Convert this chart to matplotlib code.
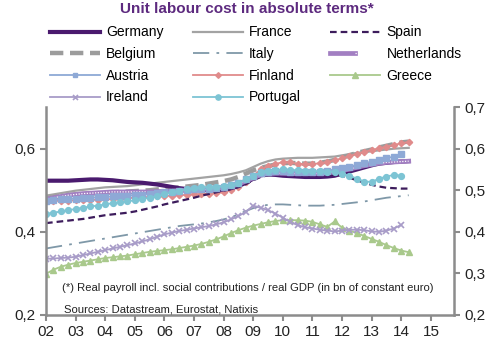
import numpy as np
import matplotlib
matplotlib.use("Agg")
import matplotlib.pyplot as plt
from matplotlib.legend_handler import HandlerTuple

plt.rcParams["font.family"] = ["Liberation Sans", "DejaVu Sans"]

# quarterly data, first point = 2002 Q1
start_year = 2002.0

germany = [0.523, 0.523, 0.523, 0.523, 0.524, 0.525, 0.526, 0.526,
           0.525, 0.524, 0.522, 0.520, 0.519, 0.518, 0.516, 0.514,
           0.511, 0.508, 0.505, 0.503, 0.502, 0.501, 0.500, 0.500,
           0.502, 0.505, 0.510, 0.518, 0.528, 0.536, 0.538, 0.537,
           0.535, 0.534, 0.533, 0.532, 0.532, 0.532, 0.533, 0.535,
           0.540, 0.545, 0.550, 0.555, 0.560, 0.564, 0.566, 0.568,
           0.569, 0.570]
france = [0.487, 0.490, 0.493, 0.496, 0.499, 0.501, 0.503, 0.505,
          0.507, 0.508, 0.509, 0.510, 0.512, 0.514, 0.516, 0.518,
          0.520, 0.522, 0.524, 0.526, 0.528, 0.530, 0.532, 0.534,
          0.536, 0.539, 0.543, 0.548, 0.556, 0.564, 0.570, 0.574,
          0.576, 0.577, 0.578, 0.578, 0.578, 0.579, 0.580, 0.581,
          0.584, 0.587, 0.590, 0.592, 0.594, 0.596, 0.598, 0.600,
          0.601, 0.602]
spain = [0.421, 0.423, 0.425, 0.427, 0.429, 0.431, 0.434, 0.437,
         0.440, 0.442, 0.444, 0.446, 0.449, 0.453, 0.457, 0.461,
         0.466, 0.470, 0.474, 0.478, 0.482, 0.487, 0.491, 0.495,
         0.499, 0.503, 0.508, 0.515, 0.524, 0.532, 0.536, 0.538,
         0.539, 0.538, 0.537, 0.536, 0.536, 0.536, 0.537, 0.537,
         0.535, 0.530, 0.524, 0.518, 0.513, 0.509, 0.506, 0.505,
         0.504, 0.504]
belgium = [0.480, 0.483, 0.486, 0.488, 0.490, 0.491, 0.492, 0.493,
           0.494, 0.495, 0.496, 0.497, 0.498, 0.499, 0.500, 0.502,
           0.503, 0.505, 0.507, 0.509, 0.511, 0.513, 0.516, 0.519,
           0.522, 0.526, 0.532, 0.540, 0.548, 0.554, 0.558, 0.562,
           0.565, 0.566, 0.565, 0.564, 0.564, 0.566, 0.569, 0.573,
           0.578, 0.584, 0.590, 0.594, 0.598, 0.603, 0.607, 0.611,
           0.615, 0.617]
italy = [0.360, 0.363, 0.366, 0.369, 0.372, 0.375, 0.378, 0.381,
         0.384, 0.387, 0.390, 0.393, 0.396, 0.399, 0.402, 0.405,
         0.408, 0.411, 0.414, 0.416, 0.418, 0.420, 0.423, 0.426,
         0.430, 0.435, 0.442, 0.450, 0.457, 0.462, 0.465, 0.466,
         0.466, 0.465, 0.464, 0.463, 0.463, 0.463, 0.464, 0.465,
         0.467, 0.469, 0.471, 0.473, 0.476, 0.479, 0.482, 0.484,
         0.486, 0.488]
netherlands = [0.478, 0.482, 0.485, 0.488, 0.490, 0.492, 0.493, 0.494,
               0.495, 0.496, 0.496, 0.496, 0.496, 0.496, 0.496, 0.497,
               0.497, 0.498, 0.499, 0.500, 0.501, 0.502, 0.503, 0.505,
               0.507, 0.510, 0.515, 0.522, 0.530, 0.537, 0.540, 0.541,
               0.541, 0.540, 0.540, 0.540, 0.540, 0.541, 0.542, 0.544,
               0.547, 0.551, 0.555, 0.559, 0.562, 0.565, 0.567, 0.568,
               0.569, 0.570]
austria = [0.475, 0.477, 0.478, 0.479, 0.480, 0.481, 0.482, 0.483,
           0.484, 0.485, 0.486, 0.487, 0.488, 0.489, 0.491, 0.493,
           0.495, 0.497, 0.499, 0.501, 0.502, 0.503, 0.504, 0.506,
           0.508, 0.512, 0.518, 0.526, 0.535, 0.542, 0.545, 0.546,
           0.546, 0.545, 0.545, 0.544, 0.544, 0.545, 0.547, 0.550,
           0.553, 0.557, 0.561, 0.565, 0.569, 0.573, 0.577, 0.581,
           0.587]
finland = [0.473, 0.474, 0.475, 0.475, 0.476, 0.476, 0.477, 0.477,
           0.478, 0.479, 0.480, 0.481, 0.482, 0.483, 0.484, 0.485,
           0.486, 0.487, 0.488, 0.489, 0.490, 0.491, 0.492, 0.493,
           0.495, 0.500, 0.508, 0.520, 0.535, 0.550, 0.558, 0.563,
           0.568, 0.567, 0.564, 0.563, 0.563, 0.565, 0.568, 0.572,
           0.577, 0.582, 0.588, 0.592, 0.597, 0.601, 0.605, 0.609,
           0.613, 0.616]
greece = [0.299, 0.309, 0.316, 0.321, 0.325, 0.328, 0.331, 0.334,
          0.337, 0.339, 0.341, 0.343, 0.346, 0.349, 0.352, 0.354,
          0.356, 0.358, 0.361, 0.364, 0.367, 0.371, 0.376, 0.382,
          0.389, 0.397, 0.404, 0.410, 0.415, 0.419, 0.423, 0.426,
          0.428, 0.428, 0.428, 0.427, 0.424, 0.418, 0.412, 0.425,
          0.410, 0.403, 0.397, 0.390, 0.383, 0.376, 0.368, 0.361,
          0.355, 0.351]
ireland = [0.335, 0.336, 0.337, 0.338, 0.340, 0.344, 0.348, 0.352,
           0.356, 0.360, 0.364, 0.368, 0.372, 0.377, 0.382, 0.388,
           0.394, 0.398, 0.402, 0.405, 0.408, 0.411, 0.414, 0.418,
           0.423, 0.430, 0.438, 0.448, 0.463, 0.458, 0.452, 0.444,
           0.434, 0.424, 0.416, 0.411, 0.408, 0.405, 0.403, 0.401,
           0.403, 0.405, 0.405, 0.404, 0.401, 0.400, 0.403, 0.408,
           0.417]
portugal = [0.443, 0.446, 0.449, 0.452, 0.455, 0.458, 0.461, 0.463,
            0.466, 0.469, 0.471, 0.473, 0.476, 0.479, 0.482, 0.486,
            0.490, 0.495, 0.499, 0.502, 0.505, 0.507, 0.508, 0.509,
            0.510, 0.513, 0.518, 0.526, 0.535, 0.543, 0.547, 0.549,
            0.550, 0.549, 0.548, 0.547, 0.546, 0.546, 0.545, 0.545,
            0.540, 0.535, 0.528, 0.521, 0.520, 0.528, 0.533, 0.537,
            0.535]

year_ticks = list(range(2002, 2016))
year_labels = ["%02d" % (y % 100) for y in year_ticks]


def qx(series):
    return start_year + 0.25 * np.arange(len(series))


fig = plt.figure(figsize=(5, 3.5), dpi=100)
ax = fig.add_axes([0.092, 0.1, 0.816, 0.594])

# order of drawing: background lines first
h_france, = ax.plot(qx(france), france, color="#a3a3a3", lw=1.6)
h_belgium, = ax.plot(qx(belgium), belgium, color="#9c9c9c", lw=3.2,
                     dashes=(3, 1.5))
h_italy, = ax.plot(qx(italy), italy, color="#7f98a8", lw=1.3,
                   dashes=(9, 4, 1.5, 4))
h_greece, = ax.plot(qx(greece), greece, color="#a9c98c", lw=1.3,
                    marker="^", ms=4.5)
h_ireland, = ax.plot(qx(ireland), ireland, color="#a89cc8", lw=1.3,
                     marker="x", ms=4, mew=1.2)
h_finland, = ax.plot(qx(finland), finland, color="#e08b8b", lw=1.3,
                     marker="D", ms=3.2)
h_germany, = ax.plot(qx(germany), germany, color="#4a1a6e", lw=3.0)
h_spain, = ax.plot(qx(spain), spain, color="#3d1c5c", lw=1.6,
                   dashes=(3, 1.8))
h_neth1, = ax.plot(qx(netherlands), netherlands, color="#a27fc2", lw=3.4)
h_neth2, = ax.plot(qx(netherlands), netherlands, color="white", lw=0.9,
                   dashes=(1, 1.2))
h_austria, = ax.plot(qx(austria), austria, color="#8ea9d6", lw=1.3,
                     marker="s", ms=3.8)
h_portugal, = ax.plot(qx(portugal), portugal, color="#7dc4d4", lw=1.3,
                      marker="o", ms=4.2)

ax.set_xlim(2002, 2015.78)
ax.set_ylim(0.2, 0.7)
ax.set_yticks([0.2, 0.4, 0.6])
ax.set_yticklabels(["0,2", "0,4", "0,6"])
ax.set_xticks(year_ticks)
ax.set_xticklabels(year_labels)

ax2 = ax.twinx()
ax2.set_ylim(0.2, 0.7)
ax2.set_yticks([0.2, 0.3, 0.4, 0.5, 0.6, 0.7])
ax2.set_yticklabels(["0,2", "0,3", "0,4", "0,5", "0,6", "0,7"])

spine_col = "#8c8c8c"
for a in (ax, ax2):
    a.spines["top"].set_visible(False)
    for s in ("left", "right", "bottom"):
        a.spines[s].set_color(spine_col)
        a.spines[s].set_linewidth(1.8)
    a.tick_params(colors=spine_col, labelcolor="#222222", labelsize=11,
                  length=4, width=1.5)
ax2.spines["left"].set_visible(False)
ax2.spines["bottom"].set_visible(False)
ax.spines["right"].set_visible(False)
ax.tick_params(axis="x", pad=3)

ax.text(2002.55, 0.266,
        "(*) Real payroll incl. social contributions / real GDP (in bn of constant euro)",
        fontsize=8.1, color="#222222", va="center")
ax.text(2002.62, 0.213, "Sources: Datastream, Eurostat, Natixis",
        fontsize=8.1, color="#222222", va="center")

fig.text(0.494, 0.975, "Unit labour cost in absolute terms*", ha="center",
         va="center", fontsize=11, fontweight="bold", color="#5d2a7f")

handles = [h_germany, h_belgium, h_austria, h_ireland,
           h_france, h_italy, h_finland, h_portugal,
           h_spain, (h_neth1, h_neth2), h_greece]
labels = ["Germany", "Belgium", "Austria", "Ireland",
          "France", "Italy", "Finland", "Portugal",
          "Spain", "Netherlands", "Greece"]
fig.legend(handles, labels, ncol=3, loc="upper left",
           bbox_to_anchor=(0.086, 0.947), frameon=False, fontsize=10,
           handlelength=3.6, handletextpad=0.45, columnspacing=2.1,
           labelspacing=0.55, borderpad=0, markerscale=0.9,
           handler_map={tuple: HandlerTuple(ndivide=None, pad=0)})

fig.savefig("out.png", dpi=100)
